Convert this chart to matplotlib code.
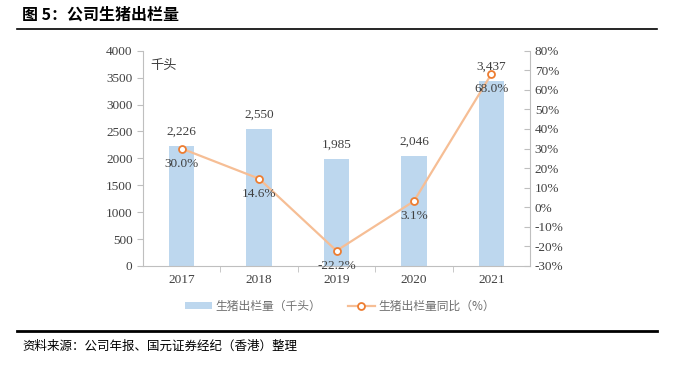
import matplotlib.pyplot as plt
from matplotlib.lines import Line2D
from matplotlib.patches import Patch

plt.rcParams['font.family'] = ['Liberation Serif', 'Noto Sans CJK SC', 'DejaVu Sans']

years = ['2017', '2018', '2019', '2020', '2021']
output = [2226, 2550, 1985, 2046, 3437]
yoy = [30.0, 14.6, -22.2, 3.1, 68.0]

bar_color = '#BDD7EE'
line_color = '#F6BE95'
marker_edge = '#ED7D31'
txt = '#404040'
axis_grey = '#BFBFBF'
cjk = ['Noto Sans CJK SC', 'DejaVu Sans']

fig = plt.figure(figsize=(6.74, 3.65), dpi=100)
ax = fig.add_axes([143 / 674, 1 - 266 / 365, 387 / 674, (266 - 50.7) / 365])
x = list(range(len(years)))
ax.bar(x, output, width=0.33, color=bar_color, zorder=1)
ax.set_xlim(-0.5, 4.5)
ax.set_ylim(0, 4000)
ax.set_yticks(range(0, 4001, 500))
ax.set_xticks(x)
ax.set_xticklabels(years)
ax.set_xticks([0.5, 1.5, 2.5, 3.5], minor=True)
ax.tick_params(axis='x', which='major', length=0, colors=txt, labelsize=9.5, pad=6)
ax.tick_params(axis='x', which='minor', length=4, color=axis_grey, direction='out')
ax.tick_params(axis='y', length=4, color=axis_grey, labelcolor=txt, labelsize=9.5, direction='out')
for s in ['top', 'right']:
    ax.spines[s].set_visible(False)
for s in ['left', 'bottom']:
    ax.spines[s].set_color(axis_grey)

for xi, v in zip(x, output):
    ax.annotate(f'{v:,}', (xi, v), xytext=(0, 6), textcoords='offset points',
                ha='center', va='bottom', fontsize=9.5, color=txt)

ax.text(0.02, 0.93, '千头', transform=ax.transAxes, fontsize=9.5, color=txt,
        family=cjk, va='center', ha='left')

ax2 = ax.twinx()
ax2.set_position(ax.get_position())
ax2.plot(x, yoy, color=line_color, lw=1.6, marker='o', markersize=5,
         markerfacecolor='white', markeredgecolor=marker_edge, markeredgewidth=1.3, zorder=3)
ax2.set_ylim(-30, 80)
ax2.set_yticks(range(-30, 81, 10))
ax2.set_yticklabels([f'{t}%' for t in range(-30, 81, 10)])
ax2.tick_params(axis='y', length=4, color=axis_grey, labelcolor=txt, labelsize=9.5, direction='in')
for s in ['top', 'left', 'bottom']:
    ax2.spines[s].set_visible(False)
ax2.spines['right'].set_color(axis_grey)

for xi, v in zip(x, yoy):
    ax2.annotate(f'{v:.1f}%', (xi, v), xytext=(0, -6.5), textcoords='offset points',
                 ha='center', va='top', fontsize=9.5, color=txt)

handles = [Patch(facecolor=bar_color, edgecolor='none'),
           Line2D([], [], color=line_color, lw=1.6, marker='o', markersize=5,
                  markerfacecolor='white', markeredgecolor=marker_edge, markeredgewidth=1.3)]
fig.legend(handles, ['生猪出栏量（千头）', '生猪出栏量同比（%）'], loc='center',
           bbox_to_anchor=(340 / 674, 1 - 306 / 365), ncol=2, frameon=False,
           prop={'family': cjk, 'size': 8.5}, labelcolor='#707070',
           handlelength=2.3, handleheight=0.5, columnspacing=2.2, handletextpad=0.3)

fig.text(22 / 674, 1 - 15 / 365, '图 5：公司生猪出栏量', family=cjk, fontsize=11.5,
         fontweight='bold', va='center', ha='left', color='black')
fig.add_artist(Line2D([17 / 674, 657 / 674], [1 - 29 / 365] * 2, color='black', lw=1.2))
fig.add_artist(Line2D([17 / 674, 657 / 674], [1 - 331 / 365] * 2, color='black', lw=2))
fig.text(22 / 674, 1 - 346 / 365, '资料来源：公司年报、国元证券经纪（香港）整理', family=cjk,
         fontsize=9, va='center', ha='left', color='black')

fig.savefig('out.png', dpi=100)
